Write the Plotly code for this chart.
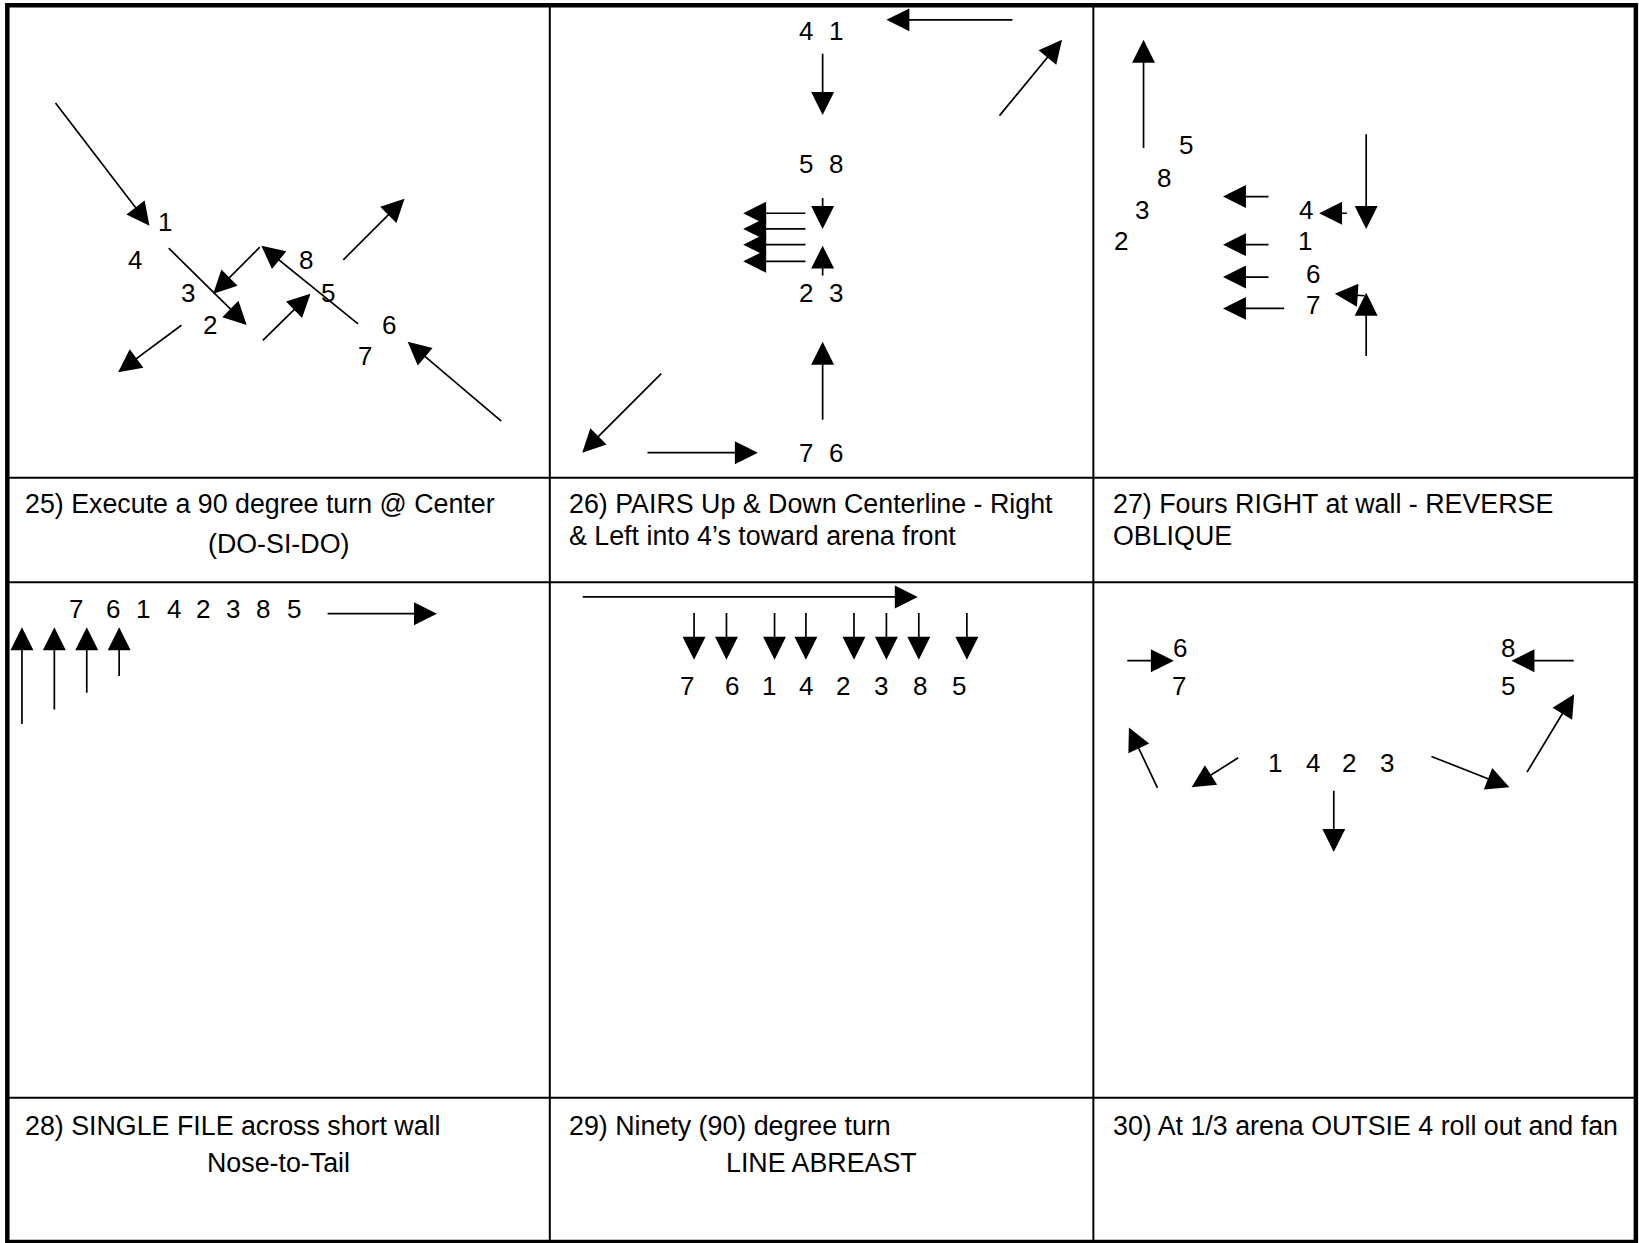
import plotly.graph_objects as go

# ---------------- data (diagram coordinates, y grows downward) ----------------
# grid lines of the 3x2 table
col_lines_x = [526, 1046]
row_lines_y = [457, 557, 1050]
frame = [7, 5, 1565, 1188]  # left, top, right, bottom

# Panel 25
p25_labels = ["1", "4", "8", "3", "5", "2", "6", "7"]
p25_lx = [158, 129, 293, 180, 314, 201, 372, 349]
p25_ly = [212, 249, 249, 280, 280, 311, 311, 341]
p25_arrows = [  # tail x, tail y, tip x, tip y
    (52, 97, 143, 216),
    (160, 236, 236, 311),
    (250, 235, 204, 281),
    (344, 311, 250, 235),
    (250, 327, 297, 281),
    (327, 250, 387, 190),
    (175, 310, 113, 356),
    (481, 404, 390, 327),
]

# Panel 26
p26_labels = ["4", "1", "5", "8", "2", "3", "7", "6"]
p26_lx = [771, 800, 771, 800, 771, 800, 771, 800]
p26_ly = [30, 30, 157, 157, 280, 280, 433, 433]
p26_arrows = [
    (970, 19, 848, 19),
    (955, 112, 1016, 38),
    (787, 50, 787, 110),
    (787, 188, 787, 219),
    (787, 265, 787, 235),
    (787, 403, 787, 327),
    (634, 356, 557, 433),
    (618, 433, 725, 433),
    (772, 204, 711, 204),
    (772, 219, 711, 219),
    (772, 234, 711, 234),
    (772, 250, 711, 250),
]

# Panel 27
p27_labels = ["5", "8", "3", "2", "4", "1", "6", "7"]
p27_lx = [1135, 1114, 1093, 1072, 1249, 1248, 1256, 1256]
p27_ly = [139, 170, 201, 231, 201, 231, 262, 292]
p27_arrows = [
    (1094, 143, 1094, 38),
    (1307, 127, 1307, 219),
    (1215, 188, 1170, 188),
    (1290, 204, 1262, 204),
    (1215, 234, 1170, 234),
    (1215, 265, 1170, 265),
    (1230, 295, 1170, 295),
    (1307, 342, 1307, 280),
    (1307, 283, 1277, 281),
]

# Panel 28
p28_labels = ["7", "6", "1", "4", "2", "3", "8", "5"]
p28_lx = [73, 108, 137, 166, 194, 223, 252, 281]
p28_ly = [583] * 8
p28_arrows = [
    (312, 587, 418, 587),
    (21, 694, 21, 600),
    (52, 680, 52, 600),
    (83, 664, 83, 600),
    (114, 648, 114, 600),
]

# Panel 29
p29_labels = ["7", "6", "1", "4", "2", "3", "8", "5"]
p29_lx = [657, 700, 736, 771, 806, 843, 880, 917]
p29_ly = [656] * 8
p29_down_x = [664, 695, 741, 771, 817, 848, 879, 925]
p29_arrows = [(556, 571, 878, 571)] + [(x, 585, x, 631) for x in p29_down_x]

# Panel 30
p30_labels = ["6", "7", "8", "5", "1", "4", "2", "3"]
p30_lx = [1129, 1128, 1443, 1443, 1220, 1256, 1291, 1327]
p30_ly = [620, 656, 620, 656, 730, 730, 730, 730]
p30_arrows = [
    (1077, 632, 1123, 632),
    (1507, 632, 1446, 632),
    (1108, 755, 1080, 696),
    (1186, 724, 1140, 753),
    (1276, 755, 1276, 815),
    (1368, 723, 1444, 753),
    (1460, 740, 1506, 664),
]

# captions: text, x, y, anchor
captions = [
    ("25) Execute a 90 degree turn @ Center", 22, 482, "left"),
    ("(DO-SI-DO)", 266, 520, "center"),
    ("26) PAIRS Up & Down Centerline - Right", 542, 482, "left"),
    ("& Left into 4\u2019s toward arena front", 542, 513, "left"),
    ("27) Fours RIGHT at wall - REVERSE", 1063, 482, "left"),
    ("OBLIQUE", 1063, 513, "left"),
    ("28) SINGLE FILE across short wall", 22, 1077, "left"),
    ("Nose-to-Tail", 266, 1112, "center"),
    ("29) Ninety (90) degree turn", 542, 1077, "left"),
    ("LINE ABREAST", 786, 1112, "center"),
    ("30) At 1/3 arena OUTSIE 4 roll out and fan", 1063, 1077, "left"),
]

# ---------------- figure ----------------
FONT = "Liberation Sans, Arial, sans-serif"
LABEL_SIZE = 26
CAPTION_SIZE = 26.8

XR = [0, 1568]
YR = [1189, 0]

fig = go.Figure()
fig.add_trace(go.Scatter(x=XR, y=YR, mode="markers",
                         marker=dict(opacity=0), hoverinfo="skip", showlegend=False))

shapes = []
L, T, R, B = frame
for x in col_lines_x:
    shapes.append(dict(type="line", x0=x, x1=x, y0=T, y1=B, xref="x", yref="y",
                       line=dict(color="black", width=2)))
for y in row_lines_y:
    shapes.append(dict(type="line", x0=L, x1=R, y0=y, y1=y, xref="x", yref="y",
                       line=dict(color="black", width=2)))
shapes.append(dict(type="rect", x0=L, x1=R, y0=T, y1=B, xref="x", yref="y",
                   line=dict(color="black", width=4.5)))

annotations = []
for labels, lx, ly in [(p25_labels, p25_lx, p25_ly), (p26_labels, p26_lx, p26_ly),
                       (p27_labels, p27_lx, p27_ly), (p28_labels, p28_lx, p28_ly),
                       (p29_labels, p29_lx, p29_ly), (p30_labels, p30_lx, p30_ly)]:
    for t, x, y in zip(labels, lx, ly):
        annotations.append(dict(text=t, x=x, y=y, xref="x", yref="y", showarrow=False,
                                xanchor="center", yanchor="middle",
                                font=dict(family=FONT, size=LABEL_SIZE, color="black")))

for arrows in [p25_arrows, p26_arrows, p27_arrows, p28_arrows, p29_arrows, p30_arrows]:
    for (x0, y0, x1, y1) in arrows:
        annotations.append(dict(text="", x=x1, y=y1, ax=x0, ay=y0, xref="x", yref="y",
                                axref="x", ayref="y", showarrow=True, arrowhead=2,
                                arrowsize=2.7, arrowwidth=1.7, arrowcolor="black",
                                standoff=0, startstandoff=0))

for t, x, y, anc in captions:
    annotations.append(dict(text=t, x=x, y=y, xref="x", yref="y", showarrow=False,
                            xanchor=anc, yanchor="middle",
                            font=dict(family=FONT, size=CAPTION_SIZE, color="black")))

fig.update_layout(
    width=1639, height=1243,
    margin=dict(l=0, r=0, t=0, b=0),
    paper_bgcolor="white", plot_bgcolor="white",
    xaxis=dict(range=XR, visible=False, fixedrange=True),
    yaxis=dict(range=YR, visible=False, fixedrange=True),
    shapes=shapes, annotations=annotations, showlegend=False,
)

fig.write_html("out.html",
               config={"displayModeBar": False, "staticPlot": True},
               post_script="document.body.style.margin='0';document.body.style.overflow='hidden';")
